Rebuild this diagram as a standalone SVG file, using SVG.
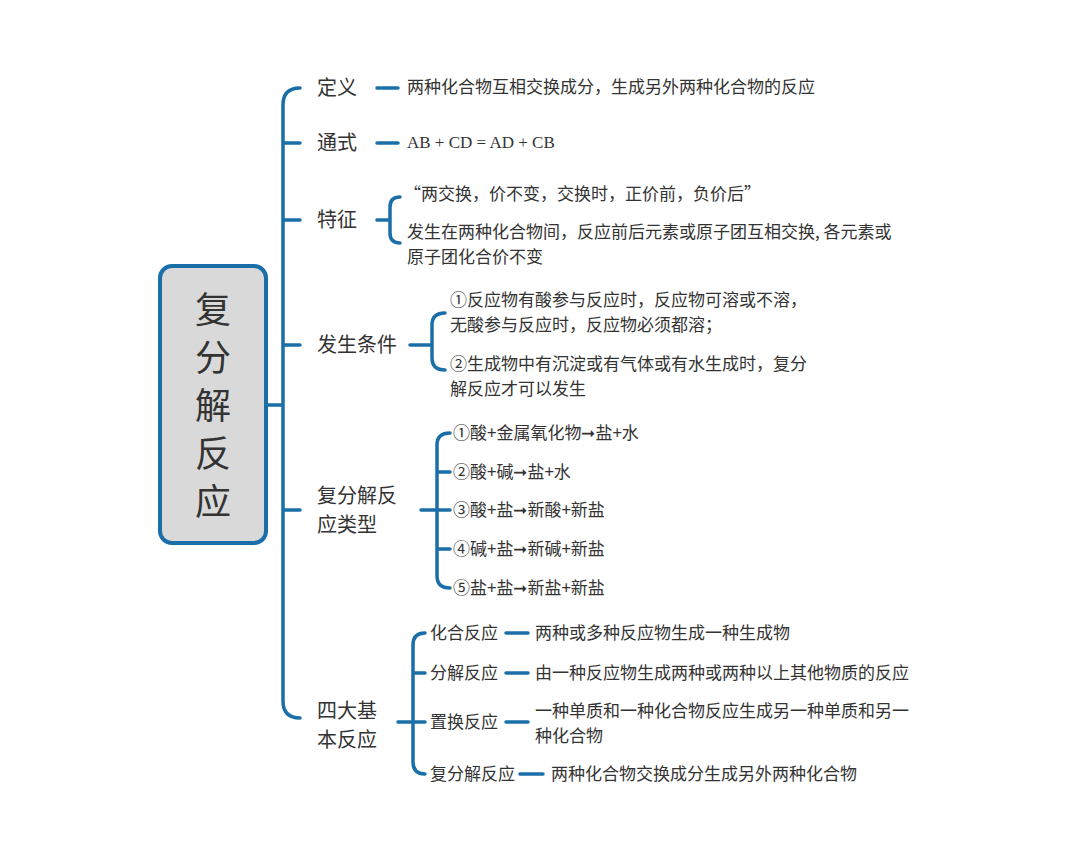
<svg xmlns="http://www.w3.org/2000/svg" width="1080" height="865" viewBox="0 0 1080 865">
<style>
.c{fill:none;stroke:#1b6fa8;stroke-width:3.5;stroke-linecap:round}
.t{font-family:"Noto Sans CJK SC","Noto Sans",sans-serif;fill:#333}
.l{font-size:20px}
.s{font-size:17px}
.r{font-size:36px}
</style>
<rect width="1080" height="865" fill="#fff"/>
<g id="connectors">
<path class="c" d="M266 405H283M300 88Q283 88 283 105V701Q283 718 300 718M283 143Q283 143 300 143M283 220H300M283 345H300M283 510H300"/>
<path class="c" d="M377 88H398M377 143H398"/>
<path class="c" d="M377 220H390M400 197Q390 197 390 207V233Q390 243 400 243"/>
<path class="c" d="M410 345H432M445 313Q432 313 432 325V358Q432 370 445 370"/>
<path class="c" d="M421 510H450M450 433Q437 433 437 445V576Q437 588 450 588M437 472H450M437 549H450"/>
<path class="c" d="M398 722H425M425 633Q413 633 413 645V762Q413 774 425 774M413 673H425"/>
<path class="c" d="M506 633H528M506 673H528M506 722H528M520 774H543"/>
</g>
<g id="root"><rect x="160" y="266" width="106" height="277" rx="12" fill="#d9d9d9" stroke="#1b6fa8" stroke-width="4"/>
<text class="t r" text-anchor="middle" x="213" y="323">复</text><text class="t r" text-anchor="middle" x="213" y="371">分</text><text class="t r" text-anchor="middle" x="213" y="419">解</text><text class="t r" text-anchor="middle" x="213" y="467">反</text><text class="t r" text-anchor="middle" x="213" y="515">应</text></g>
<g id="n1"><text class="t l" x="317" y="95">定义</text><text class="t s" x="407" y="93">两种化合物互相交换成分，生成另外两种化合物的反应</text></g>
<g id="n2"><text class="t l" x="317" y="150">通式</text><text x="407" y="148" font-size="17" fill="#333" font-family="Liberation Serif,serif">AB + CD = AD + CB</text></g>
<g id="n3"><text class="t l" x="317" y="227">特征</text><text class="t s" x="404" y="200">“两交换，价不变，交换时，正价前，负价后”</text><text class="t s" x="407" y="238">发生在两种化合物间，反应前后元素或原子团互相交换, 各元素或</text><text class="t s" x="407" y="263">原子团化合价不变</text></g>
<g id="n4"><text class="t l" x="317" y="352">发生条件</text><text class="t s" x="450" y="306">①反应物有酸参与反应时，反应物可溶或不溶，</text><text class="t s" x="450" y="331">无酸参与反应时，反应物必须都溶；</text><text class="t s" x="450" y="370">②生成物中有沉淀或有气体或有水生成时，复分</text><text class="t s" x="450" y="395">解反应才可以发生</text></g>
<g id="n5"><text class="t l" x="317" y="503">复分解反</text><text class="t l" x="317" y="532">应类型</text>
<text class="t s" x="453" y="439">①酸+金属氧化物➞盐+水</text><text class="t s" x="453" y="478">②酸+碱➞盐+水</text><text class="t s" x="453" y="516">③酸+盐➞新酸+新盐</text><text class="t s" x="453" y="555">④碱+盐➞新碱+新盐</text><text class="t s" x="453" y="594">⑤盐+盐➞新盐+新盐</text></g>
<g id="n6"><text class="t l" x="317" y="718">四大基</text><text class="t l" x="317" y="747">本反应</text>
<text class="t s" x="430" y="639">化合反应</text><text class="t s" x="535" y="639">两种或多种反应物生成一种生成物</text>
<text class="t s" x="430" y="679">分解反应</text><text class="t s" x="535" y="679">由一种反应物生成两种或两种以上其他物质的反应</text>
<text class="t s" x="430" y="728">置换反应</text><text class="t s" x="535" y="717">一种单质和一种化合物反应生成另一种单质和另一</text><text class="t s" x="535" y="742">种化合物</text>
<text class="t s" x="430" y="780">复分解反应</text><text class="t s" x="551" y="780">两种化合物交换成分生成另外两种化合物</text></g>
</svg>
